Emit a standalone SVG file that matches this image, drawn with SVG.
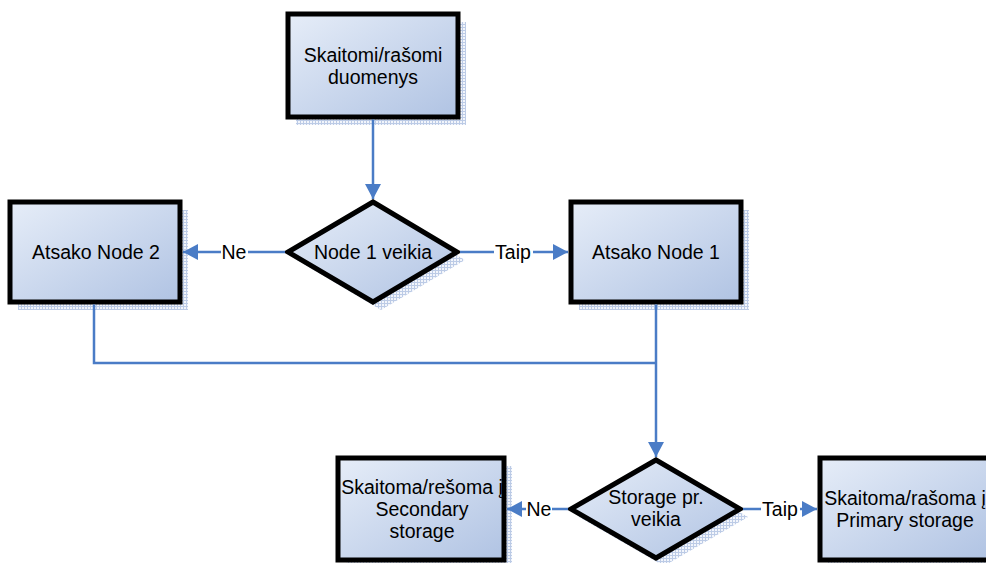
<svg xmlns="http://www.w3.org/2000/svg" width="986" height="563" viewBox="0 0 986 563">
  <defs>
    <linearGradient id="fill" x1="0" y1="0" x2="1" y2="1">
      <stop offset="0" stop-color="#e6edf8"/>
      <stop offset="1" stop-color="#b0c3e3"/>
    </linearGradient>
    <pattern id="hatch" width="3" height="3" patternUnits="userSpaceOnUse">
      <rect width="3" height="3" fill="#f2f5fb"/>
      <path d="M0 0.5H3M0.5 0V3" stroke="#bccbe6" stroke-width="1"/>
    </pattern>
    <marker id="arrow" markerWidth="15" markerHeight="16" refX="15" refY="8" orient="auto" markerUnits="userSpaceOnUse">
      <path d="M0 0L15 8L0 16Z" fill="#4a7cc6"/>
    </marker>
    <style>
      .shadow { fill: url(#hatch); }
      .shape { fill: url(#fill); stroke: #000; stroke-width: 5; stroke-linejoin: miter; }
      .label { font-family: "Liberation Sans", Arial, sans-serif; font-size: 19.5px; fill: #000; text-anchor: middle; }
      .edge { fill: none; stroke: #4a7cc6; stroke-width: 2.5; }
      .tag { fill: #fff; }
    </style>
  </defs>

  <rect width="986" height="563" fill="#fff"/>

  <g id="node-input">
    <rect class="shadow" x="296" y="22" width="170" height="103"/>
    <rect class="shape" x="288" y="14" width="170" height="103"/>
    <text class="label" x="373" y="62">Skaitomi/rašomi</text>
    <text class="label" x="373" y="84">duomenys</text>
  </g>

  <g id="node-check1">
    <path class="shadow" d="M381 210L465 260L381 310L297 260Z"/>
    <path class="shape" d="M373 202L457 252L373 302L288 252Z"/>
    <text class="label" x="373" y="259">Node 1 veikia</text>
  </g>

  <g id="node-node2">
    <rect class="shadow" x="18" y="210" width="170" height="100"/>
    <rect class="shape" x="10" y="202" width="170" height="100"/>
    <text class="label" x="96" y="259">Atsako Node 2</text>
  </g>

  <g id="node-node1">
    <rect class="shadow" x="579" y="210" width="170" height="100"/>
    <rect class="shape" x="571" y="202" width="170" height="100"/>
    <text class="label" x="656" y="259">Atsako Node 1</text>
  </g>

  <g id="node-check2">
    <path class="shadow" d="M664 468L748 517L664 566L579 517Z"/>
    <path class="shape" d="M656 460L740 509L656 558L571 509Z"/>
    <text class="label" x="656" y="504">Storage pr.</text>
    <text class="label" x="656" y="526">veikia</text>
  </g>

  <g id="node-secondary">
    <rect class="shadow" x="346" y="466" width="166" height="102"/>
    <rect class="shape" x="338" y="458" width="166" height="102"/>
    <text class="label" x="422" y="494">Skaitoma/rešoma į</text>
    <text class="label" x="422" y="516">Secondary</text>
    <text class="label" x="422" y="538">storage</text>
  </g>

  <g id="node-primary">
    <rect class="shadow" x="828" y="466" width="170" height="102"/>
    <rect class="shape" x="820" y="458" width="170" height="102"/>
    <text class="label" x="905" y="505">Skaitoma/rašoma į</text>
    <text class="label" x="905" y="527">Primary storage</text>
  </g>

  <!-- connectors, drawn over the shadows so arrow tips meet the outer borders -->
  <g id="connectors">
    <path class="edge" d="M373 119.5V199" marker-end="url(#arrow)"/>
    <path class="edge" d="M285 252H183" marker-end="url(#arrow)"/>
    <path class="edge" d="M460 252H568" marker-end="url(#arrow)"/>
    <path class="edge" d="M94 304.5V363H656"/>
    <path class="edge" d="M656 304.5V457" marker-end="url(#arrow)"/>
    <path class="edge" d="M568 509H507" marker-end="url(#arrow)"/>
    <path class="edge" d="M743 509H817" marker-end="url(#arrow)"/>
    <rect class="tag" x="221" y="241" width="27" height="22"/>
    <text class="label" x="234" y="259">Ne</text>
    <rect class="tag" x="494" y="241" width="39" height="22"/>
    <text class="label" x="513" y="259">Taip</text>
    <rect class="tag" x="526" y="498" width="26" height="22"/>
    <text class="label" x="539" y="516">Ne</text>
    <rect class="tag" x="761" y="498" width="39" height="22"/>
    <text class="label" x="780" y="516">Taip</text>
  </g>
</svg>
